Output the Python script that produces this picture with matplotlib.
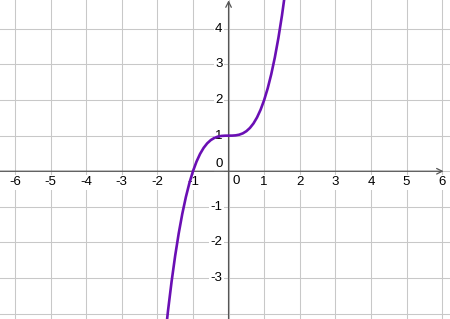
import matplotlib
matplotlib.use('Agg')
from matplotlib import pyplot as plt

# points
x_values = [-1.8, -1.7, -1.6, -1.5, -1.4, -1.3, -1.2, -1.1, -1.0, -0.9,
            -0.8, -0.7, -0.6, -0.5, -0.4, -0.3, -0.2, -0.1, 0.0, 0.1,
            0.2, 0.3, 0.4, 0.5, 0.6, 0.7, 0.8, 0.9, 1.0, 1.1,
            1.2, 1.3, 1.4, 1.5, 1.6, 1.7]
y_values = [-4.832, -3.913, -3.096, -2.375, -1.744, -1.197, -0.728, -0.331, 0.0, 0.271,
            0.488, 0.657, 0.784, 0.875, 0.936, 0.973, 0.992, 0.999, 1.0, 1.001,
            1.008, 1.027, 1.064, 1.125, 1.216, 1.343, 1.512, 1.729, 2.0, 2.331,
            2.728, 3.197, 3.744, 4.375, 5.096, 5.913]

x_ticks = [-6, -5, -4, -3, -2, -1, 0, 1, 2, 3, 4, 5, 6]
y_ticks = [-3, -2, -1, 0, 1, 2, 3, 4]

plt.rcParams['font.family'] = ['Liberation Sans', 'DejaVu Sans']

fig = plt.figure(figsize=(4.5, 3.19), dpi=100)
ax = fig.add_axes([0, 0, 1, 1])
ax.set_xlim(-6.42, 6.22)
ax.set_ylim(-4.15, 4.81)
for s in ax.spines.values():
    s.set_visible(False)
ax.set_xticks([])
ax.set_yticks([])

# grid
for gx in range(-6, 7):
    ax.axvline(gx, color='#c8c8c8', lw=0.75, zorder=1)
for gy in range(-4, 5):
    ax.axhline(gy, color='#c8c8c8', lw=0.75, zorder=1)

# axes with arrows
axis_col = '#555555'
ax.annotate('', xy=(6.04, 0), xytext=(-6.42, 0),
            arrowprops=dict(arrowstyle='->', color=axis_col, lw=0.9,
                            shrinkA=0, shrinkB=0, mutation_scale=10), zorder=3)
ax.annotate('', xy=(0, 4.80), xytext=(0, -4.15),
            arrowprops=dict(arrowstyle='->', color=axis_col, lw=0.9,
                            shrinkA=0, shrinkB=0, mutation_scale=10), zorder=3)

box = dict(facecolor='white', edgecolor='none', pad=1.0)
fs = 9.5
for t in x_ticks:
    if t == 0:
        ax.annotate('0', xy=(0, 0), xytext=(8, -10), textcoords='offset pixels',
                    ha='center', va='center', fontsize=fs, bbox=box, zorder=2)
    else:
        ax.annotate('%d' % t if t > 0 else '-%d' % -t, xy=(t, 0), xytext=(0, -11),
                    textcoords='offset pixels', ha='center', va='center',
                    fontsize=fs, bbox=box, zorder=2)
for t in y_ticks:
    if t == 0:
        ax.annotate('0', xy=(0, 0), xytext=(-6, 7), textcoords='offset pixels',
                    ha='right', va='center', fontsize=fs, bbox=box, zorder=2)
    else:
        ax.annotate('%d' % t if t > 0 else '-%d' % -t, xy=(0, t), xytext=(-6, 0),
                    textcoords='offset pixels', ha='right', va='center',
                    fontsize=fs, bbox=box, zorder=2)

ax.plot(x_values, y_values, color='#6a0fb4', lw=1.9, zorder=4,
        solid_capstyle='round', solid_joinstyle='round')

fig.savefig('out.png', dpi=100)
